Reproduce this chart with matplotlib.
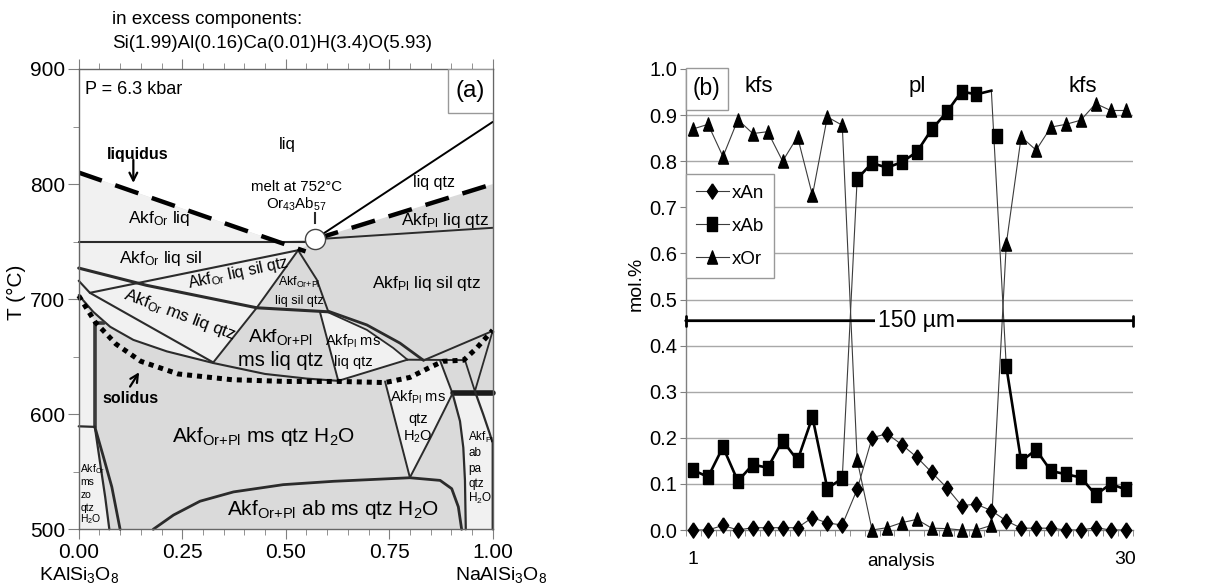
import numpy as np
import matplotlib
matplotlib.use("Agg")
import matplotlib.pyplot as plt
from matplotlib.lines import Line2D
from matplotlib.patches import Rectangle

plt.rcParams["font.family"] = ["Liberation Sans", "DejaVu Sans"]
plt.rcParams["mathtext.fontset"] = "custom"
plt.rcParams["mathtext.rm"] = "Liberation Sans"
plt.rcParams["mathtext.it"] = "Liberation Sans:italic"
plt.rcParams["mathtext.bf"] = "Liberation Sans:bold"

# ------------------------------------------------------------------
# (a) isobaric T-X section; x = NaAlSi3O8 fraction, T in deg C
# ------------------------------------------------------------------
melt_x, melt_T = 0.57, 752            # minimum melt Or43Ab57 at 752 C

liquidus_or_x = [0.0, 0.548]
liquidus_or_T = [810, 741.5]
liquidus_pl_x = [melt_x, 1.0]
liquidus_pl_T = [melt_T, 800]
liq_qtz_x = [melt_x, 1.0]
liq_qtz_T = [melt_T, 854]
pl_liq_x = [melt_x, 1.0]
pl_liq_T = [melt_T, 762]
sil_in_x = [0.0, melt_x]
sil_in_T = [750, 750]

qtz_or_x = [0.0, 0.164, 0.43, 0.603]
qtz_or_T = [727, 712, 692.5, 689]
sil_qtz_x = [0.027, 0.53]
sil_qtz_T = [705.5, 742.5]
ms_or_x = [0.0, 0.027, 0.325]
ms_or_T = [716, 705.5, 645]
ms_in_x = [0.0, 0.035, 0.076, 0.132, 0.213, 0.325, 0.45, 0.55, 0.627]
ms_in_T = [703.5, 689, 676, 664.6, 654.6, 644.5, 635, 631, 629]
tri_left_x = [0.53, 0.43]
tri_left_T = [742.5, 692.5]
tri_right_x = [0.53, 0.575, 0.603]
tri_right_T = [742.5, 717, 689]
orpl_left_x = [0.325, 0.43]
orpl_left_T = [645, 692.5]
orpl_right_x = [0.583, 0.627]
orpl_right_T = [688.5, 629]
plms_base_x = [0.627, 0.794]
plms_base_T = [629, 647.4]
sil_out_x = [0.603, 0.696, 0.760, 0.794]
sil_out_T = [688.5, 673.3, 657.5, 647.4]
liq_out_x = [0.603, 0.696, 0.776, 0.833]
liq_out_T = [689.5, 677.6, 661.8, 646.8]
flat_x = [0.794, 0.933]
flat_T = [647.4, 647]
upper_r_x = [0.833, 1.0]
upper_r_T = [646.8, 672.4]
short_x = [0.873, 0.903]
short_T = [646.5, 618]
ab_in_x = [0.903, 1.0]
ab_in_T = [618.5, 618.5]
wedge_x = [0.933, 0.957, 1.0]
wedge_T = [647, 620, 672.4]
pa_left_x = [0.903, 0.921, 0.929, 0.933, 0.935]
pa_left_T = [618, 594, 571, 542.5, 500]
pa_right_x = [0.957, 0.977, 0.993, 1.0, 1.0]
pa_right_T = [620, 600, 583, 575, 500]
h2o_left_x = [0.74, 0.80]
h2o_left_T = [628.5, 545]
h2o_right_x = [0.80, 0.849, 0.903]
h2o_right_T = [545, 579, 618]
ab_field_x = [0.18, 0.229, 0.293, 0.374, 0.494, 0.615, 0.80, 0.873, 0.901, 0.917, 0.925]
ab_field_T = [500, 512.4, 524.4, 532.5, 538.8, 541.7, 544.8, 542.5, 535.3, 519.5, 500]
zo_bar_x = [0.062, 0.039, 0.039]
zo_bar_T = [679, 679, 589]
zo_top_x = [0.0, 0.039]
zo_top_T = [589.5, 589]
zo_a_x = [0.039, 0.052, 0.064, 0.074]
zo_a_T = [589, 557, 528, 500]
zo_b_x = [0.039, 0.06, 0.08, 0.10]
zo_b_T = [589, 562.6, 536.8, 500]
solidus_x = [0.0, 0.04, 0.09, 0.15, 0.24, 0.37, 0.5, 0.63, 0.74, 0.80, 0.85, 0.88, 0.93, 0.96, 1.0]
solidus_T = [703, 680, 661, 646, 635, 630, 628.5, 628.5, 627.5, 632, 641, 646, 647, 657, 673]

# ------------------------------------------------------------------
# (b) microprobe traverse across a plagioclase grain in K-feldspar
# ------------------------------------------------------------------
analysis = np.arange(1, 31)
x_an = [0.00, 0.00, 0.01, 0.00, 0.005, 0.005, 0.005, 0.005, 0.027, 0.015,
        0.011, 0.088, 0.20, 0.209, 0.185, 0.158, 0.125, 0.092, 0.053, 0.056,
        0.042, 0.02, 0.004, 0.004, 0.004, 0.0, 0.0, 0.005, 0.0, 0.0]
x_ab = [0.13, 0.115, 0.18, 0.106, 0.142, 0.135, 0.194, 0.151, 0.245, 0.09,
        0.112, 0.762, 0.796, 0.786, 0.798, 0.82, 0.869, 0.906, 0.951, 0.945,
        0.953, 0.355, 0.149, 0.174, 0.128, 0.121, 0.114, 0.076, 0.10, 0.088]
x_or = [0.87, 0.88, 0.81, 0.89, 0.86, 0.864, 0.80, 0.853, 0.726, 0.896,
        0.878, 0.152, 0.0, 0.005, 0.016, 0.023, 0.004, 0.003, 0.0, 0.0,
        0.01, 0.62, 0.853, 0.824, 0.874, 0.88, 0.889, 0.925, 0.91, 0.91]
grains = [(1, 11), (12, 21), (22, 30)]     # kfs | pl | kfs
grain_names = ["kfs", "pl", "kfs"]
grain_label_x = [5.4, 16.0, 27.1]
ab_unmarked = [21]
ab_repeat_pos = [21.4]
ab_repeat_val = [0.855]

GRAY = "#dadada"
LIGHT = "#f1f1f1"
LINE = "#2b2b2b"
AXC = "#808080"
ORPL = r"Akf$_{\rm Or{+}Pl}$"

fig = plt.figure(figsize=(12.29, 5.86), dpi=100)
W, H = 1229.0, 586.0
axa = fig.add_axes([78.7 / W, 1 - 529.3 / H, 414 / W, 460.3 / H])
axb = fig.add_axes([685.7 / W, 1 - 530 / H, 447.3 / W, 461 / H])

# ---------------------------- panel (a) ----------------------------
ax = axa
ax.set_xlim(0, 1)
ax.set_ylim(500, 900)
ax.set_facecolor(GRAY)


def fill(xs, Ts, color):
    ax.fill(xs, Ts, color=color, lw=0, zorder=1)


def line(xs, Ts, lw=1.2, color=LINE, z=3, **kw):
    ax.plot(xs, Ts, color=color, lw=lw, zorder=z, solid_capstyle="round",
            solid_joinstyle="round", clip_on=False, **kw)


x_cross = float(np.interp(sil_in_T[0], liquidus_or_T[::-1], liquidus_or_x[::-1]))

# liquid-only fields
fill([0, 0, x_cross, melt_x, liquidus_pl_x[-1], 1.0],
     [900, liquidus_or_T[0], sil_in_T[0], melt_T, liquidus_pl_T[-1], 900], "white")

# Or-rich fields above the muscovite-in curve
ms_left = [(x, T) for x, T in zip(ms_in_x, ms_in_T) if x <= orpl_left_x[0]][::-1]
poly = ([(0, liquidus_or_T[0]), (x_cross, sil_in_T[0]), (melt_x, sil_in_T[0]),
         (tri_left_x[0], tri_left_T[0]), (tri_left_x[1], tri_left_T[1]),
         (orpl_left_x[0], orpl_left_T[0])] + ms_left)
fill([p[0] for p in poly], [p[1] for p in poly], LIGHT)

# Akf(Or) ms zo qtz H2O strip
sol_left = [(x, T) for x, T in zip(solidus_x, solidus_T) if x <= 0.04]
poly = sol_left + [(zo_bar_x[1], zo_bar_T[1])] + list(zip(zo_a_x, zo_a_T)) + [(0, 500)]
fill([p[0] for p in poly], [p[1] for p in poly], LIGHT)

# Akf(Pl) ms liq qtz
poly = ([(orpl_right_x[0], orpl_right_T[0])] + list(zip(sil_out_x, sil_out_T))
        + [(plms_base_x[0], plms_base_T[0])])
fill([p[0] for p in poly], [p[1] for p in poly], LIGHT)

# Akf(Pl) ms qtz H2O
sol_mid = [(x, T) for x, T in zip(solidus_x, solidus_T) if h2o_left_x[0] <= x < short_x[0]]
poly = (sol_mid + [(short_x[0], short_T[0]), (short_x[1], short_T[1])]
        + list(zip(h2o_right_x, h2o_right_T))[::-1][1:] + [(h2o_left_x[0], h2o_left_T[0])])
fill([p[0] for p in poly], [p[1] for p in poly], LIGHT)

# Akf(Pl) ab pa qtz H2O
poly = ([(ab_in_x[0], ab_in_T[0]), (ab_in_x[1], ab_in_T[1]), (1.0, 500)]
        + list(zip(pa_left_x, pa_left_T))[::-1])
fill([p[0] for p in poly], [p[1] for p in poly], LIGHT)

# field boundaries
line(sil_in_x, sil_in_T, lw=1.5)
line(liq_qtz_x, liq_qtz_T, lw=1.4, color="black")
line(pl_liq_x, pl_liq_T, lw=1.4)
line(qtz_or_x, qtz_or_T, lw=2.2)
line(sil_qtz_x, sil_qtz_T, lw=1.5)
line(ms_or_x, ms_or_T, lw=1.5)
line(ms_in_x, ms_in_T, lw=1.5)
line(tri_left_x, tri_left_T, lw=1.4)
line(tri_right_x, tri_right_T, lw=1.4)
line(orpl_left_x, orpl_left_T, lw=1.4)
line(orpl_right_x, orpl_right_T, lw=1.4)
line(plms_base_x, plms_base_T, lw=1.4)
line(sil_out_x, sil_out_T, lw=1.3)
line(liq_out_x, liq_out_T, lw=2.0)
line(flat_x, flat_T, lw=1.4)
line(upper_r_x, upper_r_T, lw=1.4)
line(short_x, short_T, lw=1.4)
line(ab_in_x, ab_in_T, lw=4.0, color="#1a1a1a")
line(wedge_x, wedge_T, lw=1.3)
line(pa_left_x, pa_left_T, lw=1.6)
line(pa_right_x, pa_right_T, lw=1.6)
line(h2o_left_x, h2o_left_T, lw=1.4)
line(h2o_right_x, h2o_right_T, lw=1.4)
line(ab_field_x, ab_field_T, lw=2.0)
line(zo_bar_x, zo_bar_T, lw=2.6, color="#3a3a3a")
line(zo_top_x, zo_top_T, lw=1.6)
line(zo_a_x, zo_a_T, lw=1.6)
line(zo_b_x, zo_b_T, lw=2.0)

# liquidus (dashed) and solidus (dotted)
ax.plot(liquidus_or_x, liquidus_or_T, color="black", lw=3.2,
        dashes=(5.5, 3.2), dash_capstyle="butt", zorder=4)
ax.plot(liquidus_pl_x, liquidus_pl_T, color="black", lw=3.2,
        dashes=(5.5, 3.2), dash_capstyle="butt", zorder=4)
ax.plot(solidus_x, solidus_T, color="black", lw=3.6,
        dashes=(1.0, 1.0), dash_capstyle="butt", zorder=4, clip_on=False)

# minimum-melt point
ax.plot([melt_x, melt_x], [766, 775], color=LINE, lw=1.5, zorder=5)
ax.plot([melt_x], [melt_T], marker="o", ms=14.5, mfc="white", mec="#444444",
        mew=1.0, zorder=6, clip_on=False)


def lab(x, T, s, size, **kw):
    kw.setdefault("ha", "center")
    kw.setdefault("va", "center")
    ax.text(x, T, s, fontsize=size, zorder=7, **kw)


lab(0.015, 882, "P = 6.3 kbar", 13, ha="left")
lab(0.504, 834, "liq", 12)
lab(0.142, 826, "liquidus", 11.5, weight="bold")
ax.annotate("", xy=(0.132, 801), xytext=(0.132, 821),
            arrowprops=dict(arrowstyle="->", lw=1.6, color="black",
                            shrinkA=0, shrinkB=0, mutation_scale=14), zorder=7)
lab(0.525, 797.5, "melt at 752°C", 10.8)
lab(0.525, 782.5, r"Or$_{43}$Ab$_{57}$", 10.8)
lab(0.857, 801, "liq qtz", 11.5)
lab(0.885, 768.5, r"Akf$_{\rm Pl}$ liq qtz", 12.5)
lab(0.195, 770, r"Akf$_{\rm Or}$ liq", 12.5)
lab(0.198, 735.5, r"Akf$_{\rm Or}$ liq sil", 12.5)
lab(0.385, 722.5, r"Akf$_{\rm Or}$ liq sil qtz", 11.5, rotation=12, rotation_mode="anchor")
lab(0.84, 714, r"Akf$_{\rm Pl}$ liq sil qtz", 12.5)
lab(0.532, 714.5, ORPL, 9)
lab(0.532, 698.5, "liq sil qtz", 9)
lab(0.245, 686, r"Akf$_{\rm Or}$ ms liq qtz", 12.5, rotation=-20.5, rotation_mode="anchor")
lab(0.488, 667.5, ORPL, 14)
lab(0.488, 646.5, "ms liq qtz", 14.5)
lab(0.663, 663, r"Akf$_{\rm Pl}$ ms", 10.5)
lab(0.663, 645, "liq qtz", 10.5)
lab(0.124, 614, "solidus", 11.5, weight="bold")
ax.annotate("", xy=(0.146, 636.5), xytext=(0.124, 624),
            arrowprops=dict(arrowstyle="->", lw=1.6, color="black",
                            shrinkA=0, shrinkB=0, mutation_scale=14), zorder=7)
lab(0.446, 581, ORPL + r" ms qtz H$_2$O", 15)
lab(0.82, 614.5, r"Akf$_{\rm Pl}$ ms", 10.5)
lab(0.82, 596, "qtz", 10.5)
lab(0.82, 580.5, r"H$_2$O", 10.5)
for T, s in zip([552.5, 541, 530, 518.7, 508.5],
                [r"Akf$_{\rm Or}$", "ms", "zo", "qtz", r"H$_2$O"]):
    lab(0.004, T, s, 7.5, ha="left")
for T, s in zip([580, 566.5, 552.5, 539.7, 526.5],
                [r"Akf$_{\rm Pl}$", "ab", "pa", "qtz", r"H$_2$O"]):
    lab(0.941, T, s, 8.5, ha="left")
lab(0.615, 517, ORPL + r" ab ms qtz H$_2$O", 15)

# panel tag
ax.add_patch(Rectangle((0.892, 0.904), 0.108, 0.096, transform=ax.transAxes,
                       fc="white", ec="#999999", lw=1.0, zorder=8))
ax.text(0.946, 0.952, "(a)", transform=ax.transAxes, fontsize=17.5,
        ha="center", va="center", zorder=9)

ax.set_xticks([0, 0.25, 0.5, 0.75, 1.0])
ax.set_xticklabels(["0.00", "0.25", "0.50", "0.75", "1.00"])
ax.set_xticks(np.arange(0, 1.001, 0.05), minor=True)
ax.set_yticks([500, 600, 700, 800, 900])
ax.set_yticks([550, 650, 750, 850], minor=True)
ax.tick_params(axis="x", which="both", top=True, bottom=True, direction="out",
               color=AXC, labelsize=15, pad=3)
ax.tick_params(axis="x", which="major", length=7)
ax.tick_params(axis="x", which="minor", length=4)
ax.tick_params(axis="y", which="major", left=True, right=False, direction="out",
               length=8, color=AXC, labelsize=15, pad=2)
ax.tick_params(axis="y", which="minor", left=True, right=False, direction="out",
               length=4, color=AXC)
for s in ax.spines.values():
    s.set_color("#666666")
    s.set_linewidth(1.0)
    s.set_zorder(5)
ax.text(-0.151, 0.515, "T (°C)", transform=ax.transAxes, rotation=90,
        fontsize=15, ha="center", va="center")
ax.text(0.0, -0.1, r"KAlSi$_3$O$_8$", transform=ax.transAxes, fontsize=14,
        ha="center", va="center")
ax.text(1.02, -0.1, r"NaAlSi$_3$O$_8$", transform=ax.transAxes, fontsize=14,
        ha="center", va="center")
fig.text(112 / W, 1 - 20 / H, "in excess components:", fontsize=13.5,
         ha="left", va="center")
fig.text(112 / W, 1 - 44 / H, "Si(1.99)Al(0.16)Ca(0.01)H(3.4)O(5.93)",
         fontsize=13.5, ha="left", va="center")

# ---------------------------- panel (b) ----------------------------
ax = axb
ax.set_xlim(0.5, 30.5)
ax.set_ylim(0, 1.0)

SQUARE = [(-0.33, -0.5), (0.33, -0.5), (0.33, 0.5), (-0.33, 0.5), (-0.33, -0.5)]
TRIANGLE = [(-0.38, -0.5), (0.38, -0.5), (0.0, 0.5), (-0.38, -0.5)]
DIAMOND = [(0.0, 0.5), (0.34, 0.0), (0.0, -0.5), (-0.34, 0.0), (0.0, 0.5)]
THIN = "#3c3c3c"

ab_arr = np.array(x_ab)
ax.plot(analysis, x_or, color=THIN, lw=0.8, zorder=3)
ax.plot(analysis, x_an, color=THIN, lw=0.8, zorder=3)
ax.plot(analysis, x_ab, color=THIN, lw=0.8, zorder=3)
for a, b in grains:
    sl = slice(a - 1, b)
    ax.plot(analysis[sl], ab_arr[sl], color="black", lw=1.9, zorder=3)

ax.plot(analysis, x_an, ls="none", marker=DIAMOND, ms=11, color="black",
        zorder=4, clip_on=False)
marked = [i for i in range(len(analysis)) if analysis[i] not in ab_unmarked]
ax.plot(analysis, x_ab, ls="none", marker=SQUARE, ms=10.3, color="black",
        markevery=marked, zorder=4, clip_on=False)
ax.plot(ab_repeat_pos, ab_repeat_val, ls="none", marker=SQUARE, ms=10.3,
        color="black", zorder=4)
ax.plot(analysis, x_or, ls="none", marker=TRIANGLE, ms=9.5, color="black",
        zorder=4, clip_on=False)

for name, gx in zip(grain_names, grain_label_x):
    ax.text(gx, 0.963, name, fontsize=16, ha="center", va="center")

# 150 um scale bar across the traverse
ax.annotate("", xy=(1.0, 0.454), xytext=(0.0, 0.454), xycoords="axes fraction",
            arrowprops=dict(arrowstyle="|-|,widthA=0.35,widthB=0.35", lw=2.0,
                            color="black", shrinkA=0, shrinkB=0), zorder=5)
ax.text(0.515, 0.454, "150 µm", transform=ax.transAxes, fontsize=16.5,
        ha="center", va="center", zorder=6,
        bbox=dict(fc="white", ec="none", pad=1.5))

handles = [
    Line2D([], [], color=THIN, lw=0.8, marker=DIAMOND, ms=11, mfc="black", mec="black"),
    Line2D([], [], color=THIN, lw=0.8, marker=SQUARE, ms=10.3, mfc="black", mec="black"),
    Line2D([], [], color=THIN, lw=0.8, marker=TRIANGLE, ms=9.5, mfc="black", mec="black"),
]
leg = ax.legend(handles, ["xAn", "xAb", "xOr"], loc="upper left",
                bbox_to_anchor=(0.0, 0.772), borderaxespad=0, frameon=True,
                fancybox=False, edgecolor="#999999", fontsize=13.5,
                handlelength=1.75, handletextpad=0.15, labelspacing=0.85,
                borderpad=0.55, framealpha=1)
leg.get_frame().set_linewidth(1.0)
leg.set_zorder(7)

ax.add_patch(Rectangle((0.0, 0.911), 0.095, 0.092, transform=ax.transAxes,
                       fc="white", ec="#999999", lw=1.0, zorder=7, clip_on=False))
ax.text(0.047, 0.957, "(b)", transform=ax.transAxes, fontsize=16.5,
        ha="center", va="center", zorder=8)

ax.set_yticks(np.arange(0, 1.01, 0.1))
ax.set_yticklabels([f"{v:.1f}" for v in np.arange(0, 1.01, 0.1)])
ax.yaxis.grid(True, color="#a8a8a8", lw=1.0)
ax.get_ygridlines()[-1].set_visible(False)
ax.get_ygridlines()[0].set_visible(False)
ax.set_axisbelow(True)
ax.tick_params(axis="y", length=4, color=AXC, labelsize=14.5, pad=2)
ax.set_xticks([1, 30])
ax.set_xticklabels(["1", "30"])
ax.set_xticks(np.arange(0.5, 30.6, 1.0), minor=True)
ax.tick_params(axis="x", which="major", length=0, pad=15, labelsize=14)
ax.tick_params(axis="x", which="minor", length=4, color=AXC, direction="out")
for side in ("top", "right"):
    ax.spines[side].set_visible(False)
for side in ("left", "bottom"):
    ax.spines[side].set_color(AXC)
    ax.spines[side].set_linewidth(1.0)
ax.text(0.481, -0.069, "analysis", transform=ax.transAxes, fontsize=13.5,
        ha="center", va="center")
ax.text(-0.111, 0.534, "mol.%", transform=ax.transAxes, rotation=90,
        fontsize=14, ha="center", va="center")

fig.savefig("out.png", dpi=100)
